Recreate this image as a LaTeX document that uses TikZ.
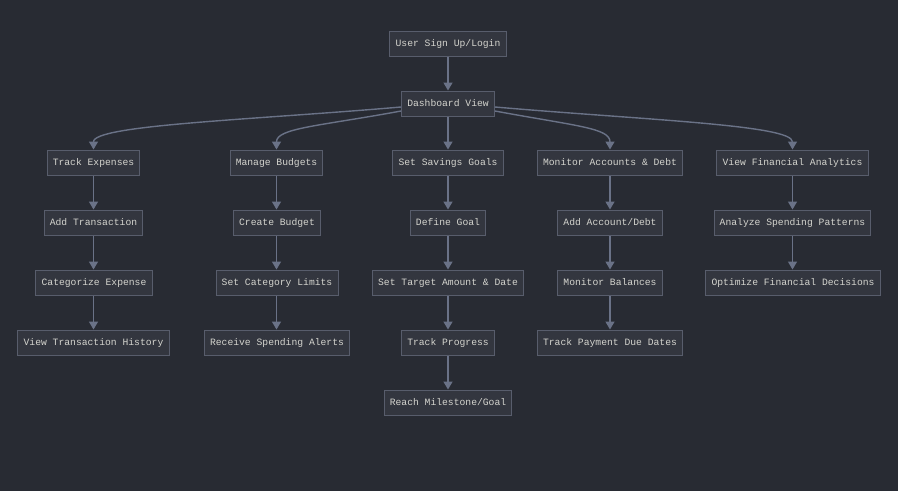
\documentclass[tikz,border=0pt]{standalone}
\usepackage{fontspec}
\setmonofont{Liberation Mono}
\usetikzlibrary{arrows.meta}
\definecolor{bgcol}{RGB}{40,43,51}
\definecolor{boxfill}{RGB}{51,54,63}
\definecolor{boxline}{RGB}{88,93,108}
\definecolor{linkcol}{RGB}{106,114,135}
\definecolor{txtcol}{RGB}{212,212,206}
\begin{document}
\begin{tikzpicture}[x=1pt, y=-1pt, font=\ttfamily\fontsize{9.7}{11}\selectfont,
    box/.style={draw=boxline, line width=1pt, fill=boxfill, text=txtcol,
      minimum height=25pt, inner xsep=5.7pt, text height=6.8pt, text depth=1.6pt},
    arrow/.style={-{Triangle[length=8pt, width=9pt]}, draw=linkcol, line width=1.4pt}]
  \fill[bgcol] (0,0) rectangle (898,491);
  \node[box] (user) at (448, 43.5) {User Sign Up/Login};
  \node[box] (dash) at (448, 103.5) {Dashboard View};
  % branches
  \node[box] (track) at (93.5, 162.5) {Track Expenses};
  \node[box] (budget) at (276.5, 162.5) {Manage Budgets};
  \node[box] (savings) at (448, 162.5) {Set Savings Goals};
  \node[box] (accounts) at (610, 162.5) {Monitor Accounts \& Debt};
  \node[box] (analytics) at (792.5, 162.5) {View Financial Analytics};
  % second level
  \node[box] (addtx) at (93.5, 222.5) {Add Transaction};
  \node[box] (create) at (277, 222.5) {Create Budget};
  \node[box] (define) at (448, 222.5) {Define Goal};
  \node[box] (addacc) at (610, 222.5) {Add Account/Debt};
  \node[box] (analyze) at (792.5, 222.5) {Analyze Spending Patterns};
  % third level
  \node[box] (categ) at (94, 282.5) {Categorize Expense};
  \node[box] (limits) at (277, 282.5) {Set Category Limits};
  \node[box] (target) at (448, 282.5) {Set Target Amount \& Date};
  \node[box] (balances) at (610, 282.5) {Monitor Balances};
  \node[box] (optimize) at (793, 282.5) {Optimize Financial Decisions};
  % fourth level
  \node[box] (history) at (93.5, 342.5) {View Transaction History};
  \node[box] (alerts) at (277, 342.5) {Receive Spending Alerts};
  \node[box] (progress) at (448, 342.5) {Track Progress};
  \node[box] (due) at (610, 342.5) {Track Payment Due Dates};
  \node[box] (milestone) at (448, 402.5) {Reach Milestone/Goal};
  % links
  \draw[arrow] (user) -- (dash);
  \draw[arrow] ([yshift=-3.5pt]dash.west) .. controls (250,120) and (93.5,125) .. (track.north);
  \draw[arrow] ([yshift=-7.5pt]dash.west) .. controls (320,126) and (276.5,128) .. (budget.north);
  \draw[arrow] (dash) -- (savings);
  \draw[arrow] ([yshift=-7.5pt]dash.east) .. controls (576,126) and (610,128) .. (accounts.north);
  \draw[arrow] ([yshift=-3.5pt]dash.east) .. controls (646,120) and (792.5,125) .. (analytics.north);
  \draw[arrow] (track) -- (addtx);
  \draw[arrow] (addtx) -- (categ.north -| addtx);
  \draw[arrow] (categ.south -| addtx) -- (history);
  \draw[arrow] (budget) -- (budget |- create.north);
  \draw[arrow] (create.south -| budget) -- (budget |- limits.north);
  \draw[arrow] (limits.south -| budget) -- (budget |- alerts.north);
  \draw[arrow] (savings) -- (define);
  \draw[arrow] (define) -- (target);
  \draw[arrow] (target) -- (progress);
  \draw[arrow] (progress) -- (milestone);
  \draw[arrow] (accounts) -- (addacc);
  \draw[arrow] (addacc) -- (balances);
  \draw[arrow] (balances) -- (due);
  \draw[arrow] (analytics) -- (analyze);
  \draw[arrow] (analyze) -- (analyze |- optimize.north);
\end{tikzpicture}
\end{document}
